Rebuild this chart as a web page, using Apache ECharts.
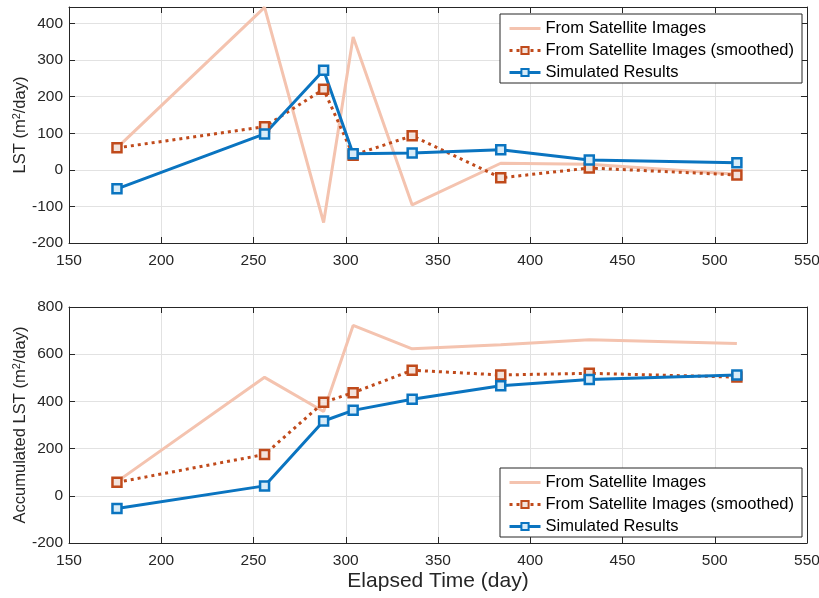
<!DOCTYPE html>
<html>
<head>
<meta charset="utf-8">
<script src="https://cdn.jsdelivr.net/npm/echarts@6/dist/echarts.min.js"></script>
<style>html,body{margin:0;padding:0;background:#fff}#c{width:819px;height:598px}</style>
</head>
<body>
<div id="c"></div>
<script>
// ---- data ----
var days = [176, 256, 288, 304, 336, 384, 432, 512];
var lstSatellite = [60, 444, -144, 363, -96, 18, 15, -12];
var lstSmoothed = [60, 118, 220, 40, 93, -22, 5, -14];
var lstSimulated = [-52, 98, 272, 44, 46, 55, 27, 19];
var accSatellite = [60, 502, 357, 722, 623, 640, 661, 645];
var accSmoothed = [57, 175, 396, 437, 532, 512, 519, 503];
var accSimulated = [-54, 42, 317, 362, 409, 466, 493, 512];
var xTicks = [150, 200, 250, 300, 350, 400, 450, 500, 550];
var topYTicks = [-200, -100, 0, 100, 200, 300, 400];
var botYTicks = [-200, 0, 200, 400, 600, 800];
var names = ['From Satellite Images', 'From Satellite Images (smoothed)', 'Simulated Results'];

function pairs(xs, ys) { return xs.map(function (x, i) { return [x, ys[i]]; }); }

var FONT = 'Liberation Sans';
var TXT = '#262626';
var C_SAT = '#F4C3AF', C_SMO = '#C04A1B', C_SIM = '#0A74C0';

function xAx(gi, bottom, name) {
  return {
    type: 'value', gridIndex: gi, position: bottom ? 'bottom' : 'top',
    min: xTicks[0], max: xTicks[xTicks.length - 1], interval: xTicks[1] - xTicks[0],
    axisLine: { show: true, onZero: false, lineStyle: { color: TXT, width: 1 } },
    axisTick: { show: true, inside: true, length: 6, lineStyle: { color: TXT } },
    axisLabel: { show: bottom, color: TXT, fontFamily: FONT, fontSize: 15.5, margin: 10 },
    splitLine: { show: bottom, lineStyle: { color: '#E2E2E2', width: 1 } },
    name: name || '', nameLocation: 'middle', nameGap: 28, nameMoveOverlap: false,
    nameTextStyle: { color: TXT, fontFamily: FONT, fontSize: 21 }
  };
}
function yAx(gi, left, ticks, max, name) {
  return {
    type: 'value', gridIndex: gi, position: left ? 'left' : 'right',
    min: ticks[0], max: max, interval: ticks[1] - ticks[0],
    axisLine: { show: true, onZero: false, lineStyle: { color: TXT, width: 1 } },
    axisTick: { show: true, inside: true, length: 6, lineStyle: { color: TXT } },
    axisLabel: { show: left, color: TXT, fontFamily: FONT, fontSize: 15.5, margin: 6,
      formatter: function (v) { return ticks.indexOf(v) >= 0 ? String(v) : ''; } },
    splitLine: { show: left, lineStyle: { color: '#E2E2E2', width: 1 } },
    name: name || '', nameLocation: 'middle', nameGap: 39, nameMoveOverlap: false,
    nameTextStyle: { color: TXT, fontFamily: FONT, fontSize: 16.5,
      rich: { sup: { fontSize: 11, verticalAlign: 'top', padding: [0, 0, 8, 0], color: TXT, fontFamily: FONT } } }
  };
}
function seriesFor(gi, sat, smo, sim) {
  var ax = gi * 2;
  return [
    { name: names[0], type: 'line', xAxisIndex: ax, yAxisIndex: ax, data: pairs(days, sat),
      showSymbol: false, symbol: 'none', lineStyle: { color: C_SAT, width: 3 }, itemStyle: { color: C_SAT } },
    { name: names[1], type: 'line', xAxisIndex: ax, yAxisIndex: ax, data: pairs(days, smo),
      symbol: 'rect', symbolSize: 9, lineStyle: { color: C_SMO, width: 3, type: [3, 4] },
      itemStyle: { color: '#F3E3DC', borderColor: C_SMO, borderWidth: 2.5 } },
    { name: names[2], type: 'line', xAxisIndex: ax, yAxisIndex: ax, data: pairs(days, sim),
      symbol: 'rect', symbolSize: 9, lineStyle: { color: C_SIM, width: 3 },
      itemStyle: { color: '#D8ECF8', borderColor: C_SIM, borderWidth: 2.5 } }
  ];
}
function legendAt(top) {
  return {
    data: [
      { name: names[0], itemStyle: { opacity: 0 }, lineStyle: { width: 3 } },
      { name: names[1], lineStyle: { width: 3 } },
      { name: names[2], lineStyle: { width: 3 } }
    ],
    orient: 'vertical', left: 500, top: top,
    itemWidth: 31, itemHeight: 9, itemGap: 3,
    padding: [5, 8, 1, 8], borderColor: TXT, borderWidth: 1, backgroundColor: '#fff',
    textStyle: { color: '#000', fontFamily: FONT, fontSize: 16.5, lineHeight: 19 }, selectedMode: false
  };
}

var chart = echarts.init(document.getElementById('c'), null, { renderer: 'canvas' });
chart.setOption({
  animation: false,
  backgroundColor: '#fff',
  grid: [
    { left: 69, right: 12, top: 7, height: 236, outerBoundsMode: 'none', containLabel: false },
    { left: 69, right: 12, top: 307, height: 236, outerBoundsMode: 'none', containLabel: false }
  ],
  xAxis: [xAx(0, true), xAx(0, false), xAx(1, true, 'Elapsed Time (day)'), xAx(1, false)],
  yAxis: [
    yAx(0, true, topYTicks, 445, 'LST (m{sup|2}/day)'), yAx(0, false, topYTicks, 445),
    yAx(1, true, botYTicks, 800, 'Accumulated LST (m{sup|2}/day)'), yAx(1, false, botYTicks, 800)
  ],
  legend: [legendAt(14), legendAt(468)],
  series: seriesFor(0, lstSatellite, lstSmoothed, lstSimulated)
    .concat(seriesFor(1, accSatellite, accSmoothed, accSimulated))
});
</script>
</body>
</html>
